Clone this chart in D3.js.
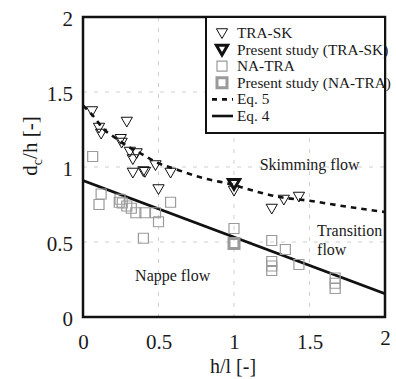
<!DOCTYPE html>
<html>
<head>
<meta charset="utf-8">
<script src="https://cdn.jsdelivr.net/npm/d3@7"></script>
</head>
<body style="margin:0;background:#fff">
<svg id="chart" width="396" height="379"></svg>
<script>
// Flow regime data: TRA-SK (transition/skimming) and NA-TRA (nappe/transition) onsets
const traSkX = [0.06, 0.29, 0.106, 0.12, 0.25, 0.256, 0.31, 0.355, 0.33, 0.48, 0.33, 0.40, 0.41, 0.58, 0.50, 1.0, 1.25, 1.33, 1.43];
const traSkY = [1.38, 1.31, 1.27, 1.23, 1.195, 1.17, 1.11, 1.10, 1.06, 1.02, 0.97, 0.98, 0.975, 0.97, 0.86, 0.85, 0.73, 0.79, 0.81];

const presentTraSkX = [1.0];
const presentTraSkY = [0.895];

const naTraX = [0.064, 0.12, 0.106, 0.245, 0.24, 0.26, 0.29, 0.32, 0.35, 0.41, 0.48, 0.50, 0.58, 0.40, 1.0, 1.25, 1.34, 1.25, 1.25, 1.25, 1.43, 1.67, 1.67, 1.67];
const naTraY = [1.07, 0.82, 0.75, 0.785, 0.765, 0.76, 0.74, 0.725, 0.695, 0.695, 0.695, 0.635, 0.765, 0.525, 0.59, 0.51, 0.45, 0.37, 0.34, 0.31, 0.35, 0.26, 0.225, 0.19];

const presentNaTraX = [1.0];
const presentNaTraY = [0.49];

// Eq. 5 (upper limit of transition flow)
const eq5X = [0.0, 0.08, 0.13, 0.22, 0.30, 0.40, 0.50, 0.60, 0.80, 1.0, 1.1, 1.3, 1.5, 1.75, 2.0];
const eq5Y = [1.41, 1.325, 1.26, 1.19, 1.135, 1.08, 1.025, 0.99, 0.925, 0.88, 0.85, 0.80, 0.775, 0.735, 0.70];

// Eq. 4 (upper limit of nappe flow), straight line
const eq4X = [0.0, 2.0];
const eq4Y = [0.91, 0.155];

const xTicks = [0, 0.5, 1, 1.5, 2];
const yTicks = [0, 0.5, 1, 1.5, 2];
const tickLabels = ["0", "0.5", "1", "1.5", "2"];
const gridValues = [0.5, 1, 1.5];

const legendLabels = ["TRA-SK", "Present study (TRA-SK)", "NA-TRA", "Present study (NA-TRA)", "Eq. 5", "Eq. 4"];
const regionLabels = ["Skimming flow", "Transition", "flow", "Nappe flow"];

const GREY = "#9a9a9a";
const FONT = "'Liberation Serif'";
const INK = "#1a1a1a";

const svg = d3.select("#chart");
const mLeft = 83, mRight = 385, mTop = 17, mBottom = 317;

const x = d3.scaleLinear().domain([0, 2]).range([mLeft, mRight]);
const y = d3.scaleLinear().domain([0, 2]).range([mBottom, mTop]);

svg.append("defs").append("clipPath").attr("id", "plotClip")
  .append("rect").attr("x", mLeft).attr("y", mTop).attr("width", mRight - mLeft).attr("height", mBottom - mTop);

// Grid
const grid = svg.append("g").attr("stroke", "#cfcfcf").attr("stroke-width", 1).attr("stroke-dasharray", "4,7");
grid.selectAll(".gx").data(gridValues).join("line")
  .attr("x1", d => x(d)).attr("x2", d => x(d)).attr("y1", mTop).attr("y2", mBottom);
grid.selectAll(".gy").data(gridValues).join("line")
  .attr("y1", d => y(d)).attr("y2", d => y(d)).attr("x1", mLeft).attr("x2", mRight);

// Axes
const xAxis = svg.append("g").attr("transform", `translate(0,${mBottom})`)
  .call(d3.axisBottom(x).tickValues(xTicks).tickSize(0).tickPadding(17).tickFormat((d, i) => tickLabels[i]));
const yAxis = svg.append("g").attr("transform", `translate(${mLeft},0)`)
  .call(d3.axisLeft(y).tickValues(yTicks).tickSize(0).tickPadding(10).tickFormat((d, i) => tickLabels[i]));
[xAxis, yAxis].forEach(a => {
  a.select(".domain").remove();
  a.attr("font-family", FONT).attr("font-size", 21);
  a.selectAll("text").attr("font-family", FONT).attr("font-size", 21).attr("fill", INK);
});
yAxis.selectAll("text").attr("dy", "0.42em");
xAxis.selectAll(".tick").filter(d => d === 2).select("text").attr("dy", "0.52em");

// Region labels
const lab = svg.append("g").attr("font-family", FONT).attr("font-size", 16).attr("fill", INK);
lab.append("text").attr("font-family", FONT).attr("x", x(1.17)).attr("y", y(0.98)).text(regionLabels[0]);
lab.append("text").attr("font-family", FONT).attr("x", x(1.55)).attr("y", y(0.54)).text(regionLabels[1]);
lab.append("text").attr("font-family", FONT).attr("x", x(1.55)).attr("y", y(0.415)).text(regionLabels[2]);
lab.append("text").attr("font-family", FONT).attr("x", x(0.345)).attr("y", y(0.237)).text(regionLabels[3]);

const plot = svg.append("g").attr("clip-path", "url(#plotClip)");

// Equation lines
plot.append("path")
  .datum(d3.zip(eq5X, eq5Y))
  .attr("d", d3.line().x(d => x(d[0])).y(d => y(d[1])).curve(d3.curveMonotoneX))
  .attr("fill", "none").attr("stroke", "#111").attr("stroke-width", 2.6).attr("stroke-dasharray", "5.5,5");
plot.append("path")
  .datum(d3.zip(eq4X, eq4Y))
  .attr("d", d3.line().x(d => x(d[0])).y(d => y(d[1])))
  .attr("fill", "none").attr("stroke", "#111").attr("stroke-width", 2.6);

// Markers
const tri = d3.symbol().type(d3.symbolTriangle).size(55);
const sq = d3.symbol().type(d3.symbolSquare).size(100);

plot.selectAll(".na").data(d3.zip(naTraX, naTraY)).join("path")
  .attr("d", sq).attr("transform", d => `translate(${x(d[0])},${y(d[1])})`)
  .attr("fill", "none").attr("stroke", GREY).attr("stroke-width", 1.2);
plot.selectAll(".nap").data(d3.zip(presentNaTraX, presentNaTraY)).join("path")
  .attr("d", sq).attr("transform", d => `translate(${x(d[0])},${y(d[1])})`)
  .attr("fill", "none").attr("stroke", GREY).attr("stroke-width", 3);
plot.selectAll(".tr").data(d3.zip(traSkX, traSkY)).join("path")
  .attr("d", tri).attr("transform", d => `translate(${x(d[0])},${y(d[1])}) rotate(180)`)
  .attr("fill", "none").attr("stroke", "#111").attr("stroke-width", 1);
plot.selectAll(".trp").data(d3.zip(presentTraSkX, presentTraSkY)).join("path")
  .attr("d", tri).attr("transform", d => `translate(${x(d[0])},${y(d[1])}) rotate(180)`)
  .attr("fill", "none").attr("stroke", "#111").attr("stroke-width", 3);

// Frame
svg.append("rect").attr("x", mLeft).attr("y", mTop).attr("width", mRight - mLeft).attr("height", mBottom - mTop)
  .attr("fill", "none").attr("stroke", "#111").attr("stroke-width", 2.5);

// Legend
const lg = svg.append("g");
lg.append("rect").attr("x", 206).attr("y", mTop).attr("width", mRight - 206).attr("height", 133 - mTop)
  .attr("fill", "#fff").attr("stroke", "#111").attr("stroke-width", 2);
const rowY = i => 33 + i * 16.6;
const sx = 222;
lg.append("path").attr("d", tri).attr("transform", `translate(${sx},${rowY(0) - 1}) rotate(180)`)
  .attr("fill", "none").attr("stroke", "#111").attr("stroke-width", 1);
lg.append("path").attr("d", tri).attr("transform", `translate(${sx},${rowY(1) - 1}) rotate(180)`)
  .attr("fill", "none").attr("stroke", "#111").attr("stroke-width", 3);
lg.append("path").attr("d", sq).attr("transform", `translate(${sx},${rowY(2)})`)
  .attr("fill", "none").attr("stroke", GREY).attr("stroke-width", 1.2);
lg.append("path").attr("d", sq).attr("transform", `translate(${sx},${rowY(3)})`)
  .attr("fill", "none").attr("stroke", GREY).attr("stroke-width", 3);
lg.append("line").attr("x1", 212).attr("x2", 233).attr("y1", rowY(4)).attr("y2", rowY(4))
  .attr("stroke", "#111").attr("stroke-width", 2.6).attr("stroke-dasharray", "5,5");
lg.append("line").attr("x1", 212).attr("x2", 233).attr("y1", rowY(5)).attr("y2", rowY(5))
  .attr("stroke", "#111").attr("stroke-width", 2.6);
lg.selectAll(".lt").data(legendLabels).join("text")
  .attr("font-family", FONT)
  .attr("x", 237).attr("y", (d, i) => rowY(i)).attr("dy", "0.33em")
  .attr("font-size", 15.3).attr("fill", INK).text(d => d);

// Axis titles
svg.append("text").attr("font-family", FONT).attr("x", 233).attr("y", 373).attr("text-anchor", "middle")
  .attr("font-size", 20).attr("fill", INK).text("h/l [-]");
const yt = svg.append("text").attr("font-family", FONT).attr("transform", "translate(37,146) rotate(-90)")
  .attr("text-anchor", "middle").attr("font-size", 21).attr("fill", INK);
yt.append("tspan").text("d");
yt.append("tspan").attr("font-size", 14).attr("dy", 5).text("c");
yt.append("tspan").attr("dy", -5).text("/h [-]");
</script>
</body>
</html>
